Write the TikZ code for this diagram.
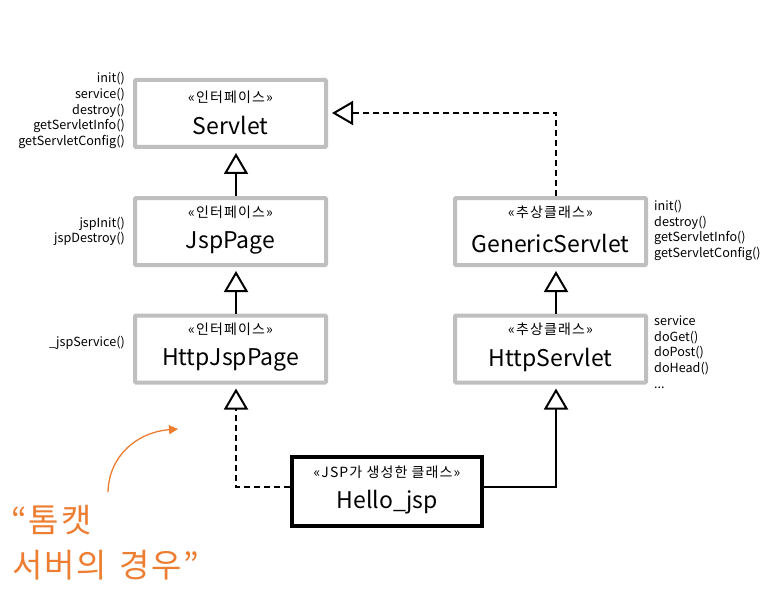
\documentclass[tikz,border=0pt]{standalone}
\usepackage{fontspec}
\setmainfont{Noto Sans CJK KR}
\newfontfamily\stfont[LetterSpace=8]{Noto Sans CJK KR}
\newfontfamily\orfont[LetterSpace=6]{Noto Sans CJK KR}
\usetikzlibrary{arrows.meta}
\definecolor{boxgray}{RGB}{191,191,191}
\definecolor{orng}{RGB}{237,125,49}
\begin{document}
\begin{tikzpicture}[x=1pt,y=-1pt,
  cls/.style={draw=boxgray, fill=white, line width=4pt, rounded corners=1pt, minimum width=191pt, minimum height=67pt, inner sep=0pt},
  gen/.style={draw=black, fill=white, line width=4pt, minimum width=190pt, minimum height=69pt, inner sep=0pt},
  stereo/.style={font=\stfont\fontsize{14}{15}\selectfont, inner sep=0pt},
  cname/.style={font=\fontsize{23}{25}\selectfont, inner sep=0pt},
  meth/.style={font=\fontsize{12.6}{15.7}\selectfont, inner sep=0pt},
  inh/.style={line width=2pt, -{Triangle[open, length=21pt, width=24pt, line width=2pt]}, shorten >=4pt},
  dsh/.style={dash pattern=on 6pt off 4pt},
  orange/.style={orng, font=\orfont\fontsize{33}{44}\selectfont, anchor=west, inner sep=0pt}
]
\useasboundingbox (0,0) rectangle (781,604);
\fill[white] (0,0) rectangle (781,604);

% boxes
\node[cls] (servlet) at (230.5,113.5) {};
\node[cls] (jsppage) at (230.5,231.5) {};
\node[cls] (httpjsp) at (230.5,349) {};
\node[cls] (generic) at (550.5,231.5) {};
\node[cls] (httpserv) at (550.5,349) {};
\node[gen] (hello) at (387,491.5) {};

% box texts
\node[stereo] (st1) at (230.5,97.5) {«인터페이스»};
\node[cname] (nm1) at (230.5,125) {Servlet};
\node[stereo] (st2) at (230.5,212) {«인터페이스»};
\node[cname] (nm2) at (230.5,243) {JspPage};
\node[stereo] (st3) at (230.5,329) {«인터페이스»};
\node[cname] (nm3) at (230.5,360) {HttpJspPage};
\node[stereo] (st4) at (550.5,212) {«추상클래스»};
\node[cname] (nm4) at (550.5,243) {GenericServlet};
\node[stereo] (st5) at (550.5,329) {«추상클래스»};
\node[cname] (nm5) at (550.5,360) {HttpServlet};
\node[stereo] (st6) at (387,472) {«JSP가 생성한 클래스»};
\node[cname] (nm6) at (387,502) {Hello\_jsp};

% method lists
\node[meth, align=right, anchor=east] (m1) at (125,110.5) {init()\\service()\\destroy()\\getServletInfo()\\getServletConfig()};
\node[meth, align=right, anchor=east] (m2) at (125,231.5) {jspInit()\\jspDestroy()};
\node[meth, align=right, anchor=east] (m3) at (125,343) {\_jspService()};
\node[meth, align=left, anchor=west] (m4) at (654,230.5) {init()\\destroy()\\getServletInfo()\\getServletConfig()};
\node[meth, align=left, anchor=west] (m5) at (654,352) {service\\doGet()\\doPost()\\doHead()\\...};

% connectors
\draw[inh] ([xshift=5.5pt]jsppage.north) -- ([xshift=5.5pt]servlet.south);
\draw[inh] ([xshift=5.5pt]httpjsp.north) -- ([xshift=5.5pt]jsppage.south);
\draw[inh] ([xshift=5.5pt]httpserv.north) -- ([xshift=5.5pt]generic.south);
\draw[inh, dsh] ([xshift=5.5pt]generic.north) |- ([yshift=0.5pt]servlet.east);
\draw[inh, dsh] ([yshift=4.5pt]hello.west) -| ([xshift=5.5pt]httpjsp.south);
\draw[inh] ([yshift=4.5pt]hello.east) -| ([xshift=5.5pt]httpserv.south);

% orange annotation
\coordinate (oa) at (108,492);
\coordinate (ob) at (178,429);
\draw[orng, line width=1.3pt, -{Triangle[length=9pt, width=9pt]}] (oa) .. controls (109,455) and (138,432) .. (ob);
\node[orange] (t1) at (11,520) {“톰캣};
\node[orange] (t2) at (12,565) {서버의\hspace{12pt}경우\hspace{2pt}”};
\end{tikzpicture}
\end{document}
